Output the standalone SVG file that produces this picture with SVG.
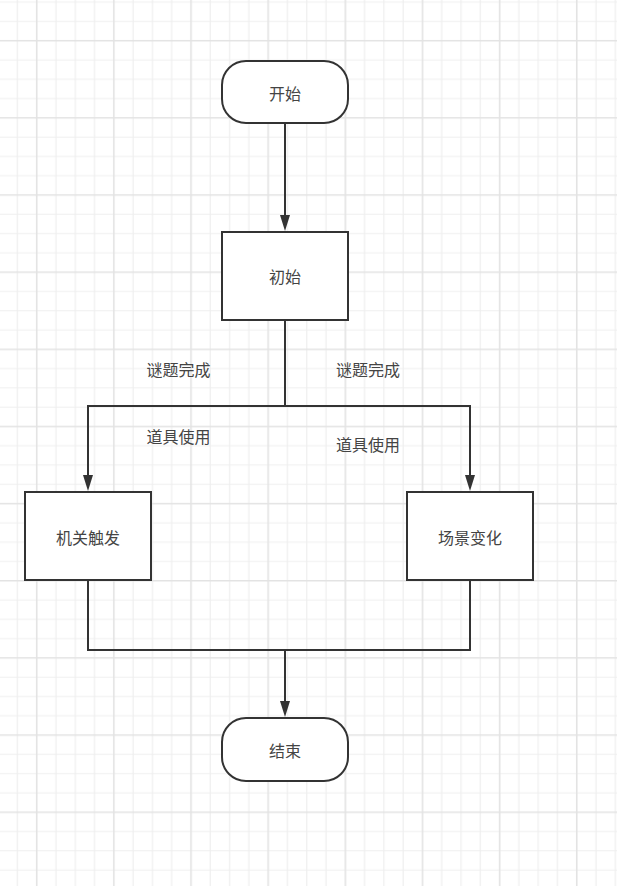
<svg xmlns="http://www.w3.org/2000/svg" width="617" height="886" viewBox="0 0 617 886">
<style>
.shape{fill:#fff;stroke:#333;stroke-width:2}
.conn{fill:none;stroke:#333;stroke-width:2}
.lbl{font-family:"Noto Sans CJK SC","Noto Sans",sans-serif;font-size:16px;fill:#444;text-anchor:middle;dominant-baseline:central}
.elbl{font-family:"Noto Sans CJK SC","Noto Sans",sans-serif;font-size:16px;fill:#444;text-anchor:start;dominant-baseline:central}
.minor{stroke:#efefef;stroke-width:1.2}
.major{stroke:#e3e3e3;stroke-width:1.6}
</style>
<defs>
<pattern id="grid" patternUnits="userSpaceOnUse" x="27.06" y="31.06" width="77.15" height="77.15">
<path class="minor" d="M28.93 0V77.15M48.22 0V77.15M67.51 0V77.15M0 28.93H77.15M0 48.22H77.15M0 67.51H77.15"/>
<path class="major" d="M9.645 0V77.15M0 9.645H77.15"/>
</pattern>
<marker id="arr" viewBox="0 0 16 10" refX="8" refY="5" markerWidth="16" markerHeight="10" markerUnits="userSpaceOnUse" orient="auto">
<path d="M0,0 L16,5 L0,10 z" fill="#333"/>
</marker>
</defs>
<rect width="617" height="886" fill="#fff"/>
<rect width="617" height="886" fill="url(#grid)"/>
<g id="connectors">
<path class="conn" d="M285 123V223" marker-end="url(#arr)"/>
<path class="conn" d="M285 320V406H88V483" marker-end="url(#arr)"/>
<path class="conn" d="M285 406H470V483" marker-end="url(#arr)"/>
<path class="conn" d="M88 580V650H470V580"/>
<path class="conn" d="M285 650V709" marker-end="url(#arr)"/>
</g>
<g id="edge-labels">
<text class="elbl" x="146.5" y="368.5">谜题完成</text>
<text class="elbl" x="336" y="368.5">谜题完成</text>
<text class="elbl" x="146.5" y="435.5">道具使用</text>
<text class="elbl" x="336" y="444">道具使用</text>
</g>
<g id="start">
<rect class="shape" x="222" y="61" width="126" height="62" rx="24" ry="24"/>
<text class="lbl" x="285" y="92.5">开始</text>
</g>
<g id="init">
<rect class="shape" x="222" y="232" width="126" height="88"/>
<text class="lbl" x="285" y="276">初始</text>
</g>
<g id="mechanism">
<rect class="shape" x="25" y="492" width="126" height="88"/>
<text class="lbl" x="88" y="536.5">机关触发</text>
</g>
<g id="scene">
<rect class="shape" x="407" y="492" width="126" height="88"/>
<text class="lbl" x="470" y="536.5">场景变化</text>
</g>
<g id="end">
<rect class="shape" x="222" y="718" width="126" height="63" rx="24" ry="24"/>
<text class="lbl" x="285" y="750">结束</text>
</g>
</svg>
